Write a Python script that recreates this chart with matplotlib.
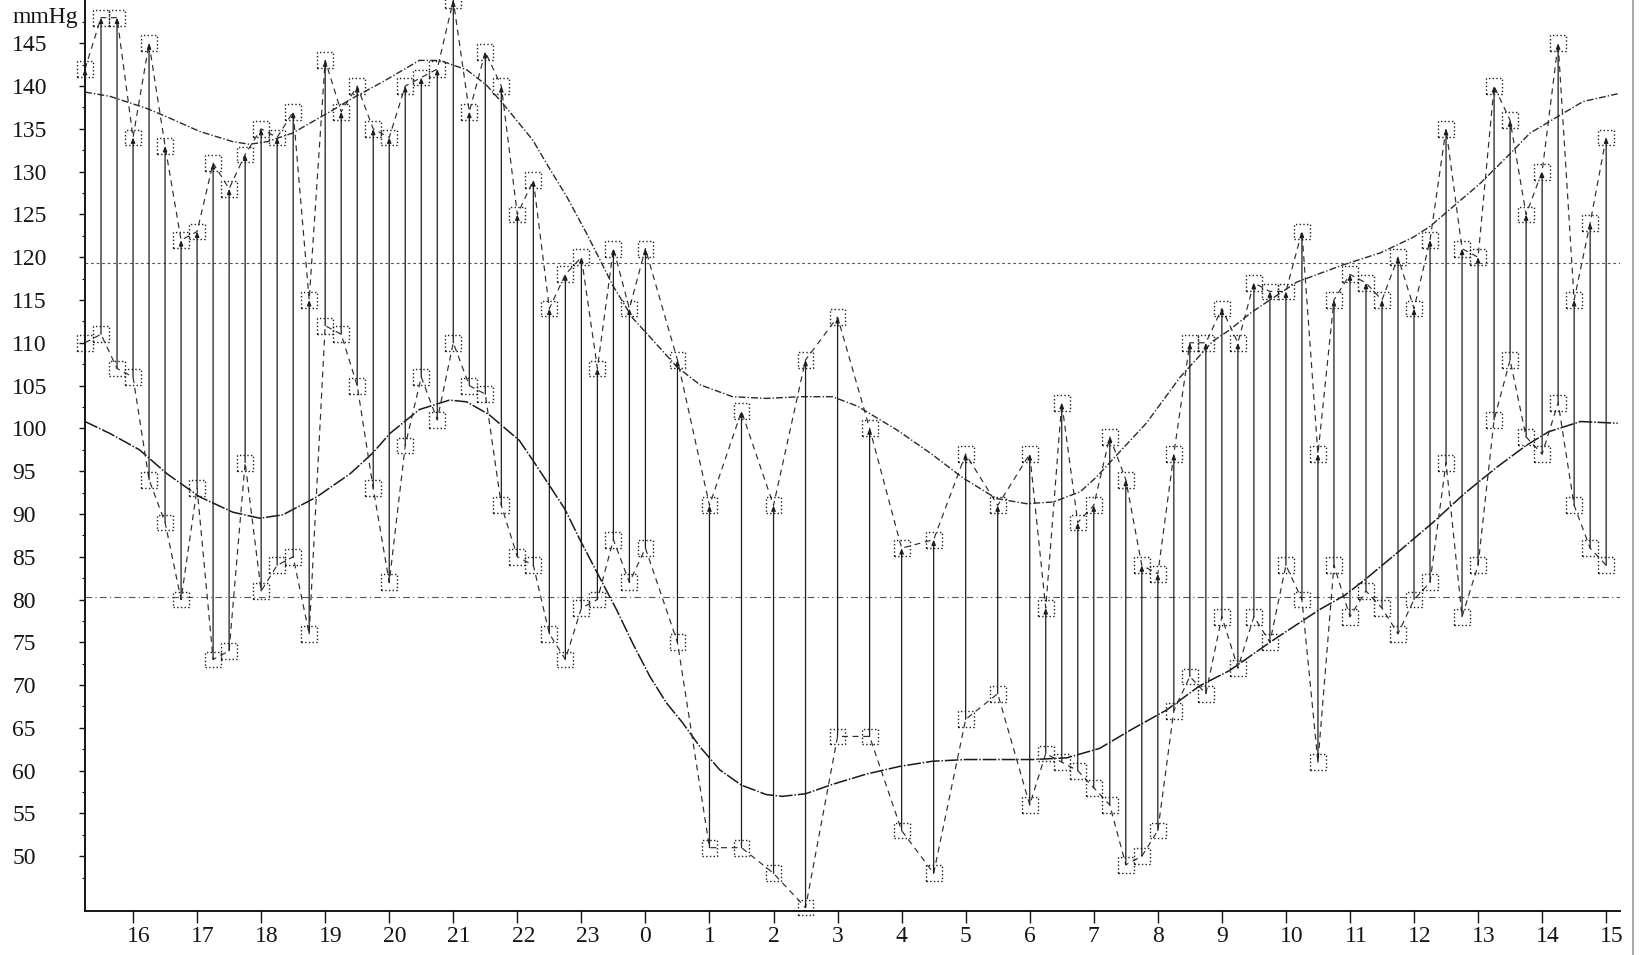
import matplotlib
matplotlib.use("Agg")
import matplotlib.pyplot as plt
import matplotlib.transforms as mtransforms
from matplotlib.lines import Line2D

plt.rcParams['font.family'] = ['Liberation Serif', 'DejaVu Serif']

# ---------------- data ----------------
# clock time of each ambulatory measurement (rolls over midnight)
clock = ["15:15", "15:30", "15:45", "16:00", "16:15", "16:30", "16:45", "17:00",
         "17:15", "17:30", "17:45", "18:00", "18:15", "18:30", "18:45", "19:00",
         "19:15", "19:30", "19:45", "20:00", "20:15", "20:30", "20:45", "21:00",
         "21:15", "21:30", "21:45", "22:00", "22:15", "22:30", "22:45", "23:00",
         "23:15", "23:30", "23:45", "0:00",
         "0:30", "1:00", "1:30", "2:00", "2:30", "3:00", "3:30", "4:00", "4:30",
         "5:00", "5:30",
         "6:00", "6:15", "6:30", "6:45", "7:00", "7:15", "7:30", "7:45", "8:00",
         "8:15", "8:30", "8:45", "9:00", "9:15", "9:30", "9:45", "10:00", "10:15",
         "10:30", "10:45", "11:00", "11:15", "11:30", "11:45", "12:00", "12:15",
         "12:30", "12:45", "13:00", "13:15", "13:30", "13:45", "14:00", "14:15",
         "14:30", "14:45", "15:00"]

systolic = [142, 148, 148, 134, 145, 133, 122, 123, 131, 128, 132, 135, 134, 137,
            115, 143, 137, 140, 135, 134, 140, 141, 142, 150, 137, 144, 140, 125,
            129, 114, 118, 120, 107, 121, 114, 121,
            108, 91, 102, 91, 108, 113, 100, 86, 87, 97, 91,
            97, 79, 103, 89, 91, 99, 94, 84, 83, 97, 110, 110, 114, 110, 117, 116,
            116, 123, 97, 115, 118, 117, 115, 120, 114, 122, 135, 121, 120, 140,
            136, 125, 130, 145, 115, 124, 134]

diastolic = [110, 111, 107, 106, 94, 89, 80, 93, 73, 74, 96, 81, 84, 85, 76, 112,
             111, 105, 93, 82, 98, 106, 101, 110, 105, 104, 91, 85, 84, 76, 73, 79,
             80, 87, 82, 86,
             75, 51, 51, 48, 44, 64, 64, 53, 48, 66, 69,
             56, 62, 61, 60, 58, 56, 49, 50, 53, 67, 71, 69, 78, 72, 78, 75, 84, 80,
             61, 84, 78, 81, 79, 76, 80, 82, 96, 78, 84, 101, 108, 99, 97, 103, 91,
             86, 84]

# fitted (smooth) curves: hour of day (24+ = next day)
fit_sys_t = [15.25, 15.64, 16.21, 16.53, 17.04, 17.56, 17.82, 18.09, 18.49, 19.12,
             19.43, 19.90, 20.47, 20.79, 21.21, 21.52, 21.77, 22.24, 22.50, 22.77,
             23.08, 23.29, 23.49, 23.80, 24.02, 24.49, 24.85, 25.36, 25.89, 26.41,
             26.92, 27.31, 27.93, 28.45, 28.96, 29.48, 29.95, 30.37, 30.79, 31.04,
             31.41, 31.82, 32.35, 32.86, 33.12, 33.47, 34.17, 34.89, 35.47, 35.98,
             36.25, 36.67, 37.03, 37.50, 37.81, 38.28, 38.64, 39.18]
fit_sys_v = [139.3, 138.8, 137.4, 136.4, 134.7, 133.5, 133.2, 133.5, 134.5, 137.2,
             138.6, 140.5, 143.0, 143.0, 141.9, 140.1, 138.0, 133.7, 130.4, 127.1,
             122.8, 119.7, 116.7, 112.9, 111.1, 107.2, 105.1, 103.7, 103.5, 103.7,
             103.7, 102.6, 99.8, 97.1, 94.2, 91.8, 91.2, 91.4, 92.6, 94.3,
             97.3, 100.6, 106.0, 110.2, 111.5, 113.6, 117.1, 119.1, 120.5, 122.3,
             123.6, 126.3, 128.6, 132.1, 134.5, 136.6, 138.2, 139.1]

fit_dia_t = [15.25, 15.64, 16.10, 16.53, 17.04, 17.56, 17.98, 18.34, 18.87, 19.39,
             19.74, 20.01, 20.47, 20.94, 21.21, 21.56, 22.03, 22.24, 22.46, 22.74,
             22.97, 23.29, 23.55, 23.80, 24.07, 24.33, 24.58, 24.85, 25.16, 25.50,
             25.89, 26.14, 26.50, 26.92, 27.45, 27.97, 28.48, 29.00, 29.53, 30.05,
             30.58, 31.09, 31.61, 32.14, 32.65, 33.12, 33.79, 34.52, 34.92, 35.23,
             35.76, 36.28, 36.79, 37.30, 37.75, 38.10, 38.60, 39.18]
fit_dia_v = [100.8, 99.4, 97.5, 94.7, 92.0, 90.2, 89.5, 89.9, 92.0, 94.7,
             97.1, 99.4, 102.2, 103.3, 103.1, 101.6, 98.6, 96.3, 93.8, 90.6,
             87.1, 82.5, 78.8, 74.9, 71.0, 67.9, 65.6, 62.8, 60.1, 58.3,
             57.2, 57.0, 57.3, 58.4, 59.6, 60.5, 61.1, 61.3, 61.3, 61.3,
             61.5, 62.6, 64.9, 67.1, 69.9, 71.7, 75.2, 78.8, 80.5, 82.3,
             85.6, 88.9, 92.4, 95.5, 98.0, 99.6, 100.8, 100.6]

mean_sys = 119.3
mean_dia = 80.3

hour_ticks = list(range(16, 40))
y_ticks = list(range(50, 150, 5))


def to_hours(labels):
    out, prev = [], None
    day = 0
    for s in labels:
        h, m = s.split(":")
        v = int(h) + int(m) / 60.0
        if prev is not None and v + day * 24 < prev:
            day += 1
        out.append(v + day * 24)
        prev = out[-1]
    return out


t = to_hours(clock)

# ---------------- figure ----------------
W, H = 1644, 955
fig = plt.figure(figsize=(W / 100, H / 100), dpi=100)
ax = fig.add_axes([85 / W, 44 / H, 1535 / W, 911 / H])
ax.set_xlim(15.25, 39.216)
ax.set_ylim(43.6, 150.06)

ink = "#151515"
for sp in ("top", "right"):
    ax.spines[sp].set_visible(False)
for sp in ("left", "bottom"):
    ax.spines[sp].set_linewidth(1.4)
    ax.spines[sp].set_color(ink)

# reference (mean) lines
ax.axhline(mean_sys, color="#555555", lw=0.8, ls=(0, (2.5, 2.5)), zorder=1)
ax.axhline(mean_dia, color="#555555", lw=0.8, ls=(0, (6, 3, 1, 3)), zorder=1)

# fitted curves
ax.plot(fit_sys_t, fit_sys_v, color="#2a2a2a", lw=1.0, ls=(0, (5, 1.5, 1, 1.5)), zorder=2)
ax.plot(fit_dia_t, fit_dia_v, color="#1a1a1a", lw=1.1, ls=(0, (9, 1.2, 1, 1.2)), zorder=2)

# zig-zag series
ax.plot(t, systolic, color="#2e2e2e", lw=0.85, ls=(0, (5, 4)), zorder=2)
ax.plot(t, diastolic, color="#2e2e2e", lw=0.85, ls=(0, (5, 4)), zorder=2)

# vertical arrows between diastolic and systolic of each reading
for ti, s, d in zip(t, systolic, diastolic):
    ax.annotate("", xy=(ti, s), xytext=(ti, d),
                arrowprops=dict(arrowstyle="-|>,head_length=0.3,head_width=0.12",
                                lw=0.9, color="#1e1e1e", shrinkA=0, shrinkB=0),
                zorder=3, annotation_clip=False)

# dotted square markers
for vals in (systolic, diastolic):
    ax.scatter(t, vals, marker="s", s=130, facecolors="none", edgecolors="#1e1e1e",
               linewidths=1.0, linestyles=":", clip_on=False, zorder=4)

# ticks
ax.set_xticks(hour_ticks)
ax.set_xticklabels([str(h % 24) for h in hour_ticks])
ax.set_yticks(y_ticks)
ax.set_yticks([v + 2.5 for v in range(45, 150, 5)], minor=True)
ax.set_yticklabels([str(v) for v in y_ticks])
ax.tick_params(axis="x", which="major", direction="out", length=8.6, width=1.0,
               labelsize=17, pad=2, colors=ink)
ax.tick_params(axis="y", which="major", direction="out", length=4.3, width=1.0,
               labelsize=17, pad=48.0, colors=ink)
ax.tick_params(axis="y", which="minor", direction="out", length=2.2, width=0.8, colors=ink)
for lab in ax.get_yticklabels():
    lab.set_horizontalalignment("left")

fig.canvas.draw()
shift = mtransforms.ScaledTranslation(6 / 100, 0, fig.dpi_scale_trans)
for lab in ax.get_xticklabels():
    if len(lab.get_text()) == 2:
        lab.set_transform(lab.get_transform() + shift)

fig.text(12 / W, 1 - 17 / H, "mmHg", fontsize=17, ha="left", va="center", color=ink)

# page edge line at the right
fig.add_artist(Line2D([1633 / W, 1633 / W], [0, 1], transform=fig.transFigure,
                      color="#9a9a9a", lw=1.2))

fig.savefig("out.png", dpi=100)
